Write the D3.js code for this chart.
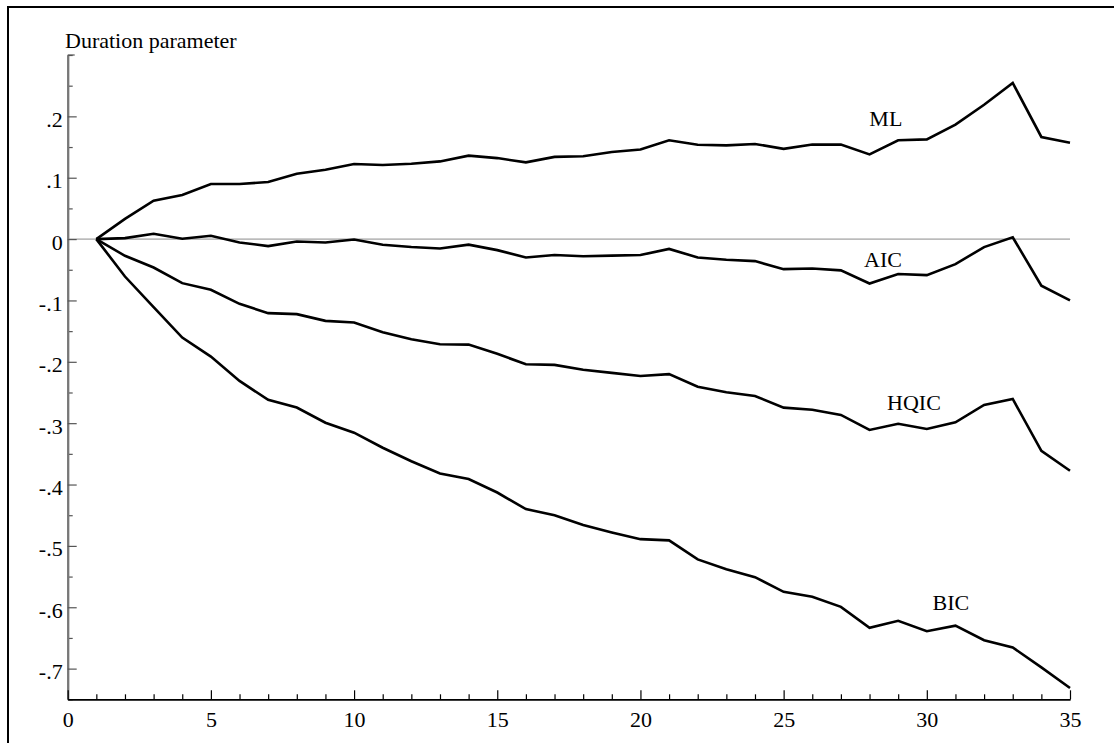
<!DOCTYPE html>
<html>
<head>
<meta charset="utf-8">
<script src="https://cdn.jsdelivr.net/npm/d3@7"></script>
<style>
  html, body { margin: 0; padding: 0; background: #fff; }
  svg { display: block; }
  svg text { font-family: "Liberation Serif", "Times New Roman", Times, serif !important; fill: #000; }
</style>
</head>
<body>
<svg id="chart" width="1114" height="743"></svg>
<script>
// ---- data ----
const horizon = d3.range(1, 36);
const seriesNames = ["ML", "AIC", "HQIC", "BIC"];
const mlValues = [0, 0.033, 0.0625, 0.072, 0.0897, 0.0897, 0.093, 0.1065, 0.113, 0.1223, 0.1207, 0.1228, 0.1266,
  0.136, 0.132, 0.125, 0.134, 0.135, 0.142, 0.146, 0.161, 0.1538, 0.1527, 0.155, 0.147, 0.154, 0.154, 0.138,
  0.161, 0.1625, 0.1865, 0.219, 0.2545, 0.1664, 0.157];
const aicValues = [0, 0.0016, 0.0086, 0.0005, 0.0054, -0.0055, -0.0114, -0.0039, -0.0055, -0.0006, -0.0093, -0.013, -0.0153,
  -0.009, -0.018, -0.030, -0.026, -0.028, -0.027, -0.026, -0.016, -0.030, -0.0338, -0.0359, -0.049, -0.048, -0.051, -0.0724,
  -0.057, -0.0587, -0.0408, -0.013, 0.003, -0.076, -0.100];
const hqicValues = [0, -0.0272, -0.0463, -0.0718, -0.0827, -0.1055, -0.1207, -0.1223, -0.1333, -0.136, -0.1517, -0.1631, -0.1713,
  -0.172, -0.187, -0.204, -0.205, -0.213, -0.218, -0.223, -0.220, -0.2405, -0.2496, -0.2556, -0.2747, -0.278, -0.2866, -0.311,
  -0.301, -0.3095, -0.2986, -0.2703, -0.2605, -0.345, -0.3775];
const bicValues = [0, -0.061, -0.111, -0.1605, -0.1915, -0.2312, -0.262, -0.2746, -0.2992, -0.3155, -0.340, -0.362, -0.382,
  -0.391, -0.413, -0.440, -0.450, -0.466, -0.478, -0.489, -0.491, -0.522, -0.538, -0.551, -0.5749, -0.583, -0.5993, -0.6336,
  -0.622, -0.639, -0.630, -0.6537, -0.6656, -0.698, -0.7315];
const yMajorTicks = [-0.7, -0.6, -0.5, -0.4, -0.3, -0.2, -0.1, 0, 0.1, 0.2];
const yMinorTicks = [-0.75, -0.65, -0.55, -0.45, -0.35, -0.25, -0.15, -0.05, 0.05, 0.15, 0.25, 0.3];
const xMajorTicks = [0, 5, 10, 15, 20, 25, 30, 35];
const xMinorTicks = d3.range(1, 35).filter(v => v % 5 !== 0);
const yTitle = "Duration parameter";
// label anchor points (data coordinates)
const labelX = [28.57, 28.47, 29.55, 30.84];
const labelY = [0.184, -0.045, -0.2785, -0.605];

// ---- layout ----
const svg = d3.select("#chart");
const x = d3.scaleLinear().domain([0, 35]).range([67.7, 1070]);
const y = d3.scaleLinear().domain([-0.75, 0.3]).range([699.3, 55]);
const FONT = "Liberation Serif";
const FS = 22;

// outer frame
svg.append("rect").attr("x", 8).attr("y", 7).attr("width", 1200).attr("height", 1000)
  .attr("fill", "none").attr("stroke", "#000").attr("stroke-width", 2);

const fmt = v => {
  if (Math.abs(v) < 1e-9) return "0";
  const s = Math.abs(v).toFixed(1).replace(/^0/, "");
  return (v < 0 ? "-" : "") + s;
};

// zero line
svg.append("line").attr("x1", x(0)).attr("x2", x(35)).attr("y1", y(0)).attr("y2", y(0))
  .attr("stroke", "#8a8a8a").attr("stroke-width", 1);

// y axis (minor)
const gyMinor = svg.append("g").attr("transform", `translate(${x(0)},0)`)
  .call(d3.axisLeft(y).tickValues(yMinorTicks).tickSizeInner(-5).tickSizeOuter(0).tickFormat(""));
// y axis (major)
const gy = svg.append("g").attr("transform", `translate(${x(0)},0)`)
  .call(d3.axisLeft(y).tickValues(yMajorTicks).tickSizeInner(-9).tickSizeOuter(0).tickPadding(5).tickFormat(fmt));
[gy, gyMinor].forEach(g => {
  g.attr("font-family", FONT).attr("font-size", FS);
  g.select(".domain").attr("stroke", "#777").attr("stroke-width", 2);
  g.selectAll(".tick line").attr("stroke", "#555").attr("stroke-width", 1.2);
});
gy.selectAll(".tick text").attr("font-size", FS).attr("dy", "0").attr("y", 10)
  .attr("font-family", FONT).attr("fill", "#000");
// top cap of y axis
svg.append("line").attr("x1", x(0)).attr("x2", x(0) + 7).attr("y1", y(0.3)).attr("y2", y(0.3))
  .attr("stroke", "#555").attr("stroke-width", 1.2);

// x axis (minor)
const gxMinor = svg.append("g").attr("transform", `translate(0,${y(-0.75)})`)
  .call(d3.axisBottom(x).tickValues(xMinorTicks).tickSizeInner(-5).tickSizeOuter(0).tickFormat(""));
const gx = svg.append("g").attr("transform", `translate(0,${y(-0.75)})`)
  .call(d3.axisBottom(x).tickValues(xMajorTicks).tickSizeInner(-9).tickSizeOuter(0).tickPadding(0).tickFormat(d3.format("d")));
[gx, gxMinor].forEach(g => {
  g.attr("font-family", FONT).attr("font-size", FS);
  g.select(".domain").attr("stroke", "#000").attr("stroke-width", 1.6);
  g.selectAll(".tick line").attr("stroke", "#000").attr("stroke-width", 1.2);
});
gx.selectAll(".tick text").attr("font-size", FS).attr("dy", "0").attr("y", 28)
  .attr("font-family", FONT).attr("fill", "#000");

// title
svg.append("text").attr("x", 65).attr("y", 48).attr("font-size", FS)
  .attr("font-family", FONT).text(yTitle);

// lines
const allSeries = [mlValues, aicValues, hqicValues, bicValues];
const line = d3.line().x((d, i) => x(horizon[i])).y(d => y(d));
svg.append("g").selectAll("path").data(allSeries).join("path")
  .attr("d", d => line(d)).attr("fill", "none").attr("stroke", "#000")
  .attr("stroke-width", 2.6).attr("stroke-linejoin", "miter").attr("stroke-linecap", "butt");

// series labels
svg.append("g").selectAll("text").data(seriesNames).join("text")
  .attr("x", (d, i) => x(labelX[i])).attr("y", (d, i) => y(labelY[i]))
  .attr("text-anchor", "middle").attr("font-size", FS).attr("font-family", FONT).text(d => d);
</script>
</body>
</html>
